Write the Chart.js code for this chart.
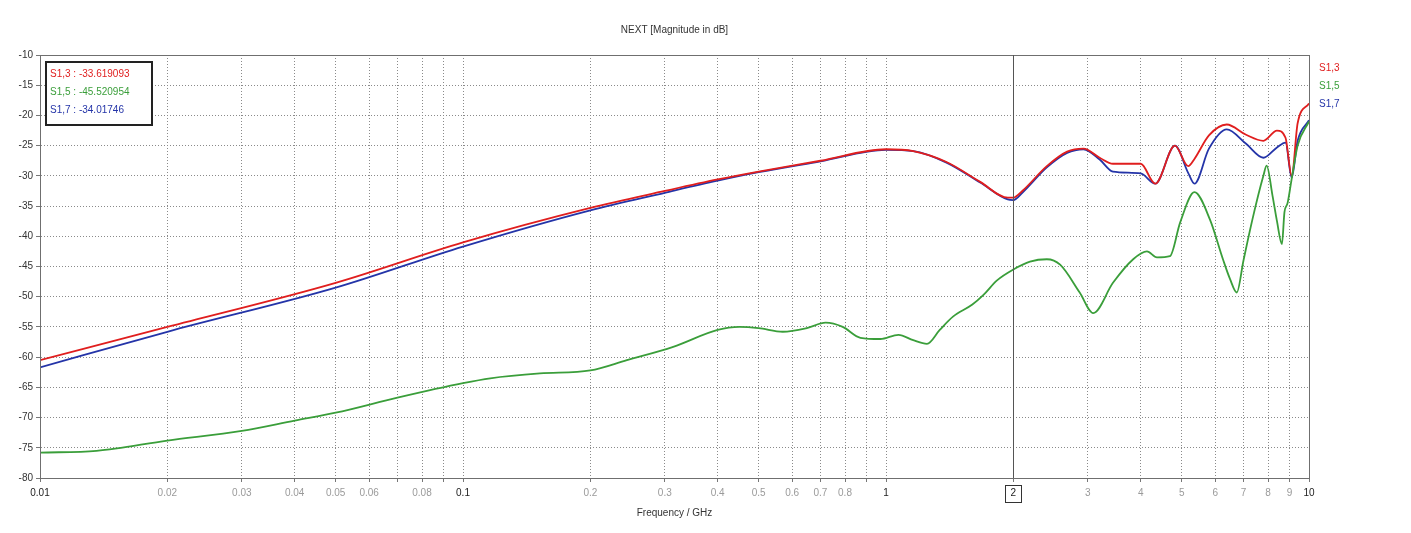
<!DOCTYPE html>
<html>
<head>
<meta charset="utf-8">
<title>NEXT [Magnitude in dB]</title>
<script src="https://cdn.jsdelivr.net/npm/chart.js@4/dist/chart.umd.min.js"></script>
<style>
    html, body { margin: 0; padding: 0; background: #fff; }
    #wrap { width: 1411px; height: 533px; position: relative; }
</style>
</head>
<body>
<div id="wrap"><canvas id="nextChart"></canvas></div>
<script>
// Frequency points (GHz) for S1,3 and S1,7
const freqRB = [0.01, 0.02, 0.05, 0.1, 0.2, 0.3, 0.4, 0.5, 0.7, 1.0, 1.16, 1.39, 1.67, 1.94, 2.0, 2.1, 2.4, 2.68, 2.93, 3.2,
    3.44, 4.0, 4.33, 4.82, 5.18, 5.36, 5.8, 6.39, 7.1, 7.8, 8.4, 8.8, 9.1, 9.4, 10];
const s13 = [-60.5, -55, -47.7, -41, -35.3, -32.5, -30.6, -29.3, -27.5, -25.6, -25.9, -27.7, -31, -33.6, -33.6, -32.5, -28.4, -26, -25.5, -27,
    -28, -28, -31.3, -25, -28.4, -27.2, -23.3, -21.5, -23.2, -24.2, -22.5, -23.7, -30, -21.3, -18];
const s17 = [-61.7, -55.8, -48.5, -41.7, -35.7, -32.8, -30.8, -29.4, -27.6, -25.7, -25.9, -27.8, -31.1, -33.9, -34.0, -32.8, -28.6, -26.2, -25.6, -27.3,
    -29.3, -29.6, -31.3, -25, -29.5, -31.3, -25.5, -22.3, -24.7, -27, -25.3, -24.5, -30.3, -24.2, -20.8];

// Frequency points (GHz) for S1,5
const freqG = [0.01, 0.0136, 0.02, 0.03, 0.04, 0.05, 0.07, 0.1, 0.116, 0.152, 0.2, 0.244, 0.314, 0.4, 0.45, 0.5, 0.57, 0.65, 0.72, 0.79,
    0.87, 0.97, 1.07, 1.16, 1.25, 1.34, 1.44, 1.6, 1.7, 1.83, 2.0, 2.19, 2.4, 2.58, 2.87, 3.09, 3.44, 3.84, 4.14, 4.37,
    4.69, 4.96, 5.36, 5.83, 6.26, 6.5, 6.75, 7.0, 7.35, 7.8, 7.94, 8.2, 8.4, 8.63, 8.75, 8.9, 9.1, 9.4, 10];
const s15 = [-75.8, -75.5, -73.8, -72.2, -70.5, -69.2, -66.7, -64.3, -63.5, -62.7, -62.2, -60.5, -58.3, -55.5, -55, -55.2, -55.8, -55.2, -54.3, -55,
    -56.8, -57, -56.3, -57.2, -57.8, -55.5, -53.3, -51.3, -49.7, -47.3, -45.5, -44.2, -43.8, -44.7, -49.3, -52.7, -47.7, -43.8, -42.5, -43.5,
    -43.3, -37.7, -32.7, -37.2, -43.8, -47, -49.3, -44, -37.2, -30, -28.3, -33.3, -37.5, -41.3, -36, -34.5, -30.5, -25, -21];

// Series names and marker readout at 2 GHz
const seriesNames = ['S1,3', 'S1,5', 'S1,7'];
const seriesColors = ['#e01e1e', '#3a9e3a', '#2434a8'];
const markerFreq = 2;
const markerValues = ['-33.619093', '-45.520954', '-34.01746'];

// Axis ticks
const xGridValues = [0.01, 0.02, 0.03, 0.04, 0.05, 0.06, 0.07, 0.08, 0.09,
    0.1, 0.2, 0.3, 0.4, 0.5, 0.6, 0.7, 0.8, 0.9,
    1, 2, 3, 4, 5, 6, 7, 8, 9, 10];
const xTickLabels = [0.01, 0.02, 0.03, 0.04, 0.05, 0.06, 0.08, 0.1, 0.2, 0.3, 0.4, 0.5, 0.6, 0.7, 0.8, 1, 2, 3, 4, 5, 6, 7, 8, 9, 10];
const xDecades = [0.01, 0.1, 1, 10];

const FONT = 'Liberation Sans';

function toPoints(xs, ys) {
    return xs.map((x, i) => ({ x: x, y: ys[i] }));
}

// draws the frame, 2 GHz marker, readout box and right-hand names
const overlayPlugin = {
    id: 'overlay',
    afterDatasetsDraw(chart) {
        const ctx = chart.ctx;
        const area = chart.chartArea;
        const xs = chart.scales.x;
        ctx.save();
        // frame
        ctx.strokeStyle = '#6f6f6f';
        ctx.lineWidth = 1;
        ctx.strokeRect(area.left + 0.5, area.top + 0.5, area.right - area.left, area.bottom - area.top);
        // marker line
        const mx = Math.round(xs.getPixelForValue(markerFreq)) + 0.5;
        ctx.strokeStyle = '#555';
        ctx.beginPath();
        ctx.moveTo(mx, area.top);
        ctx.lineTo(mx, area.bottom);
        ctx.stroke();
        // box around marker tick label
        ctx.strokeStyle = '#333';
        ctx.strokeRect(mx - 8, area.bottom + 7.5, 16, 17);
        // readout box
        ctx.fillStyle = '#fff';
        ctx.fillRect(area.left + 6, area.top + 7, 106, 63);
        ctx.strokeStyle = '#222';
        ctx.lineWidth = 2;
        ctx.strokeRect(area.left + 6, area.top + 7, 106, 63);
        ctx.font = '10px ' + FONT;
        ctx.textBaseline = 'middle';
        ctx.textAlign = 'left';
        seriesNames.forEach((name, i) => {
            ctx.fillStyle = seriesColors[i];
            ctx.fillText(name + ' : ' + markerValues[i], area.left + 10, area.top + 19 + i * 18);
            ctx.fillText(name, area.right + 10, area.top + 13 + i * 18);
        });
        ctx.restore();
    }
};

function initChart() {
    const ctx = document.getElementById('nextChart').getContext('2d');
    new Chart(ctx, {
        type: 'line',
        data: {
            datasets: [
                { label: seriesNames[1], data: toPoints(freqG, s15), borderColor: seriesColors[1] },
                { label: seriesNames[0], data: toPoints(freqRB, s13), borderColor: seriesColors[0] },
                { label: seriesNames[2], data: toPoints(freqRB, s17), borderColor: seriesColors[2] }
            ]
        },
        options: {
            responsive: true,
            maintainAspectRatio: false,
            animation: false,
            layout: { padding: { left: 0, right: 102, top: 0, bottom: 0 } },
            elements: {
                point: { radius: 0 },
                line: { borderWidth: 1.8, cubicInterpolationMode: 'monotone', fill: false }
            },
            scales: {
                x: {
                    type: 'logarithmic',
                    min: 0.01,
                    max: 10,
                    afterBuildTicks: scale => {
                        scale.ticks = xGridValues.map(v => ({ value: v }));
                    },
                    afterFit: scale => { scale.height = 55; },
                    ticks: {
                        autoSkip: false,
                        maxRotation: 0,
                        padding: 5,
                        font: { family: FONT, size: 10 },
                        color: c => xDecades.includes(c.tick.value) || c.tick.value === markerFreq ? '#222' : '#9a9a9a',
                        callback: v => xTickLabels.includes(v) ? String(v) : ''
                    },
                    grid: { color: '#8a8a8a', tickLength: 4, tickColor: '#777' },
                    border: { display: true, color: '#6f6f6f', dash: [1, 2] },
                    title: {
                        display: true,
                        text: 'Frequency / GHz',
                        color: '#333',
                        font: { family: FONT, size: 10 },
                        padding: { top: 0, bottom: 14 }
                    }
                },
                y: {
                    min: -80,
                    max: -10,
                    afterFit: scale => { scale.width = 40; },
                    ticks: {
                        stepSize: 5,
                        padding: 3,
                        font: { family: FONT, size: 10 },
                        color: '#333'
                    },
                    grid: { color: '#8a8a8a', tickLength: 4, tickColor: '#777' },
                    border: { display: true, color: '#6f6f6f', dash: [1, 2] }
                }
            },
            plugins: {
                legend: { display: false },
                tooltip: { enabled: false },
                title: {
                    display: true,
                    fullSize: false,
                    text: 'NEXT [Magnitude in dB]',
                    color: '#333',
                    font: { family: FONT, size: 10, weight: 'normal' },
                    padding: { top: 24, bottom: 19 }
                }
            }
        },
        plugins: [overlayPlugin]
    });
}

document.addEventListener('DOMContentLoaded', function() {
    initChart();
});
</script>
</body>
</html>
